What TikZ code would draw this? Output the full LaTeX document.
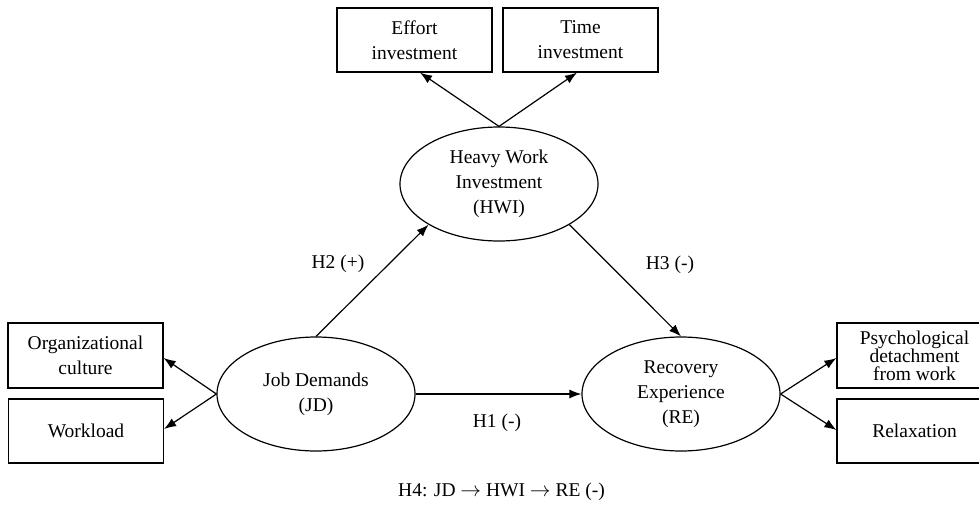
\documentclass[tikz,border=0pt]{standalone}
\usepackage{fontspec}
\setmainfont{Liberation Serif}
\usetikzlibrary{arrows.meta,shapes.geometric}
\begin{document}
\begin{tikzpicture}[x=1pt,y=-1pt,
  every node/.style={font=\fontsize{19.5}{25}\selectfont},
  box/.style={draw, line width=1.2pt, minimum width=155pt, minimum height=64pt, align=center, inner sep=0pt},
  lat/.style={draw, ellipse, line width=1.2pt, minimum width=198pt, minimum height=114pt, align=center, inner sep=0pt},
  arr/.style={line width=1.2pt, -{Latex[length=12pt,width=9pt]}},
  lab/.style={inner sep=0pt}
]
\useasboundingbox (0,0) rectangle (979,506);
\clip (0,0) rectangle (979,506);
\node[box] (eff) at (414.5,40) {Effort\\investment};
\node[box] (time) at (580.5,40) {Time\\investment};
\node[lat] (hwi) at (499,184) {Heavy Work\\Investment\\(HWI)};
\node[lat] (jd) at (316,394) {Job Demands\\(JD)};
\node[lat] (re) at (681,394) {Recovery\\Experience\\(RE)};
\node[box, minimum height=65pt] (org) at (85.5,355.5) {Organizational\\culture};
\node[box] (work) at (86,431) {Workload};
\node[box, minimum height=65pt, font=\fontsize{19.5}{18}\selectfont] (psy) at (914.5,355.5) {Psychological\\detachment\\from work};
\node[box] (rel) at (914.5,431) {Relaxation};
\draw[arr] (hwi.north) -- ([xshift=5.5pt]eff.south);
\draw[arr] (hwi.north) -- ([xshift=-3.5pt]time.south);
\draw[arr] (jd.west) -- ([yshift=-2.5pt]org.east);
\draw[arr] (jd.west) -- ([yshift=2pt]work.east);
\draw[arr] (re.east) -- ([yshift=-2.5pt]psy.west);
\draw[arr] (re.east) -- ([yshift=1pt]rel.west);
\draw[arr] (jd.east) -- (re.west);
\draw[arr] (jd.north) -- (hwi.210);
\draw[arr] (hwi.330) -- (re.north);
\node[lab] (h1) at (497,423) {H1 (-)};
\node[lab] (h2) at (338,264) {H2 (+)};
\node[lab] (h3) at (670,265) {H3 (-)};
\node[lab] (h4) at (501.5,492) {H4: JD \ensuremath{\rightarrow} HWI \ensuremath{\rightarrow} RE (-)};
\end{tikzpicture}
\end{document}
